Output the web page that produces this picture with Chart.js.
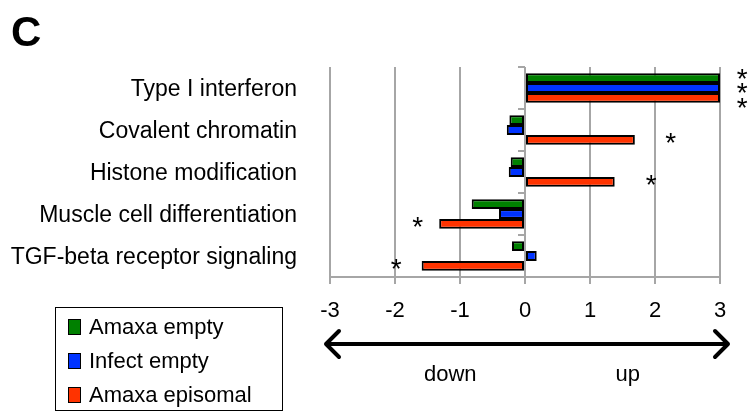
<!DOCTYPE html>
<html lang="en">
<head>
<meta charset="utf-8"/>
<title>Gene set enrichment</title>
<script src="https://cdnjs.cloudflare.com/ajax/libs/Chart.js/4.4.1/chart.umd.min.js"></script>
<style>
	body {
		margin: 0;
		background-color: white;
		font-family: "Liberation Sans", Arial, sans-serif;
	}
	.main {
		position: relative;
		width: 751px;
		height: 415px;
		overflow: hidden;
	}
	.panel {
		position: absolute;
		left: 11px;
		top: 7px;
		font-size: 42px;
		font-weight: bold;
		line-height: 50px;
	}
	.legend {
		position: absolute;
		left: 55px;
		top: 307px;
		width: 228px;
		height: 104px;
		border: 1.5px solid #000;
		box-sizing: border-box;
	}
	.legend div {
		position: absolute;
		left: 12px;
		font-size: 22px;
		line-height: 26px;
		white-space: nowrap;
	}
	.legend span {
		display: inline-block;
		width: 11px;
		height: 14px;
		border: 1.5px solid #000;
		margin-right: 8px;
		vertical-align: -1px;
	}
	canvas { position: absolute; left: 0; top: 0; }
</style>
</head>
<body>
<div class="main">
	<canvas id="myChart" width="751" height="415"></canvas>
	<div class="panel">C</div>
	<div class="legend" id="legend"></div>
</div>

<script>
	// categories and fold-change values
	const categories = [
		'Type I interferon',
		'Covalent chromatin',
		'Histone modification',
		'Muscle cell differentiation',
		'TGF-beta receptor signaling'
	];
	const amaxaEmpty    = [3, -0.24, -0.22, -0.82, -0.20];
	const infectEmpty   = [3, -0.28, -0.25, -0.40, 0.18];
	const amaxaEpisomal = [3, 1.69, 1.38, -1.32, -1.59];

	const seriesNames  = ['Amaxa empty', 'Infect empty', 'Amaxa episomal'];
	const seriesColors = ['#008000', '#0033ff', '#ff3300'];
	const xTicks = [-3, -2, -1, 0, 1, 2, 3];

	// significance stars: row index, series index, x value
	const starRow    = [0, 0, 0, 1, 2, 3, 4];
	const starSeries = [0, 1, 2, 2, 2, 2, 2];
	const starX      = [3.34, 3.34, 3.34, 2.24, 1.94, -1.65, -1.98];

	// direction arrow below the axis
	const arrowFrom = -3, arrowTo = 3;
	const dirLabels = ['down', 'up'];
	const dirX      = [-1.15, 1.58];

	const grey = '#a6a6a6';
	const labelFont = {family: '"Liberation Sans", Arial, sans-serif', size: 23};
	const tickFont = {family: '"Liberation Sans", Arial, sans-serif', size: 22};

	const extras = {
		id: 'extras',
		afterDraw(chart) {
			const ctx = chart.ctx;
			const xs = chart.scales.x;
			ctx.save();
			ctx.fillStyle = '#000';
			ctx.strokeStyle = '#000';

			// stars
			ctx.font = '28px "Liberation Sans", Arial, sans-serif';
			ctx.textAlign = 'center';
			ctx.textBaseline = 'alphabetic';
			const m = ctx.measureText('*');
			const shift = (m.actualBoundingBoxAscent - m.actualBoundingBoxDescent) / 2;
			starX.forEach((v, i) => {
				const row = starRow[i];
				const same = starRow.filter(r => r === row).length;
				const bar = chart.getDatasetMeta(starSeries[i]).data[row];
				let y = bar.y;
				if (same > 1) {
					const mid = chart.getDatasetMeta(1).data[row].y;
					y = mid + (starSeries[i] - 1) * 14.5;
				} else {
					y -= 2;
				}
				ctx.fillText('*', xs.getPixelForValue(v), y + shift);
			});

			// arrow
			const ay = 344;
			const x1 = xs.getPixelForValue(arrowFrom) - 4;
			const x2 = xs.getPixelForValue(arrowTo) + 8;
			ctx.lineWidth = 4;
			ctx.lineCap = 'round';
			ctx.lineJoin = 'round';
			ctx.beginPath();
			ctx.moveTo(x1, ay);
			ctx.lineTo(x2, ay);
			ctx.moveTo(x1 + 13, ay - 13);
			ctx.lineTo(x1, ay);
			ctx.lineTo(x1 + 13, ay + 13);
			ctx.moveTo(x2 - 13, ay - 13);
			ctx.lineTo(x2, ay);
			ctx.lineTo(x2 - 13, ay + 13);
			ctx.stroke();

			ctx.font = '22px "Liberation Sans", Arial, sans-serif';
			ctx.textBaseline = 'middle';
			dirLabels.forEach((t, i) => {
				ctx.fillText(t, xs.getPixelForValue(dirX[i]), 375);
			});
			ctx.restore();
		}
	};

	const ctx1 = document.getElementById('myChart').getContext('2d');
	const chart1 = new Chart(ctx1, {
		type: 'bar',
		data: {
			labels: categories,
			datasets: [amaxaEmpty, infectEmpty, amaxaEpisomal].map((d, i) => ({
				label: seriesNames[i],
				data: d,
				backgroundColor: seriesColors[i],
				borderColor: '#000',
				borderWidth: 2,
				borderSkipped: false,
				categoryPercentage: 0.7,
				barPercentage: 1
			}))
		},
		options: {
			indexAxis: 'y',
			responsive: false,
			animation: false,
			layout: {padding: {left: 0, right: 31, top: 67, bottom: 88}},
			plugins: {
				legend: {display: false},
				tooltip: {enabled: false}
			},
			scales: {
				x: {
					min: -3,
					max: 3,
					afterBuildTicks(scale) {
						scale.ticks = xTicks.map(v => ({value: v}));
					},
					afterFit(scale) { scale.height = 50; },
					ticks: {color: '#000', font: tickFont, padding: 14},
					grid: {color: grey, lineWidth: 2, tickLength: 7},
					border: {color: grey, width: 2}
				},
				y: {
					afterFit(scale) { scale.width = 330; },
					ticks: {color: '#000', font: labelFont, padding: 25, labelOffset: 2},
					grid: {display: false},
					border: {display: false}
				},
				y2: {
					type: 'category',
					axis: 'y',
					position: {x: 0},
					offset: true,
					ticks: {display: false},
					grid: {offset: true, drawOnChartArea: false, color: grey, lineWidth: 2, tickLength: 7},
					border: {display: false}
				}
			}
		},
		plugins: [extras]
	});

	// legend built from the same series
	const legend = document.getElementById('legend');
	seriesNames.forEach((name, i) => {
		const row = document.createElement('div');
		row.style.top = (6 + i * 34) + 'px';
		row.innerHTML = '<span style="background:' + seriesColors[i] + '"></span>' + name;
		legend.appendChild(row);
	});
</script>
</body>
</html>
